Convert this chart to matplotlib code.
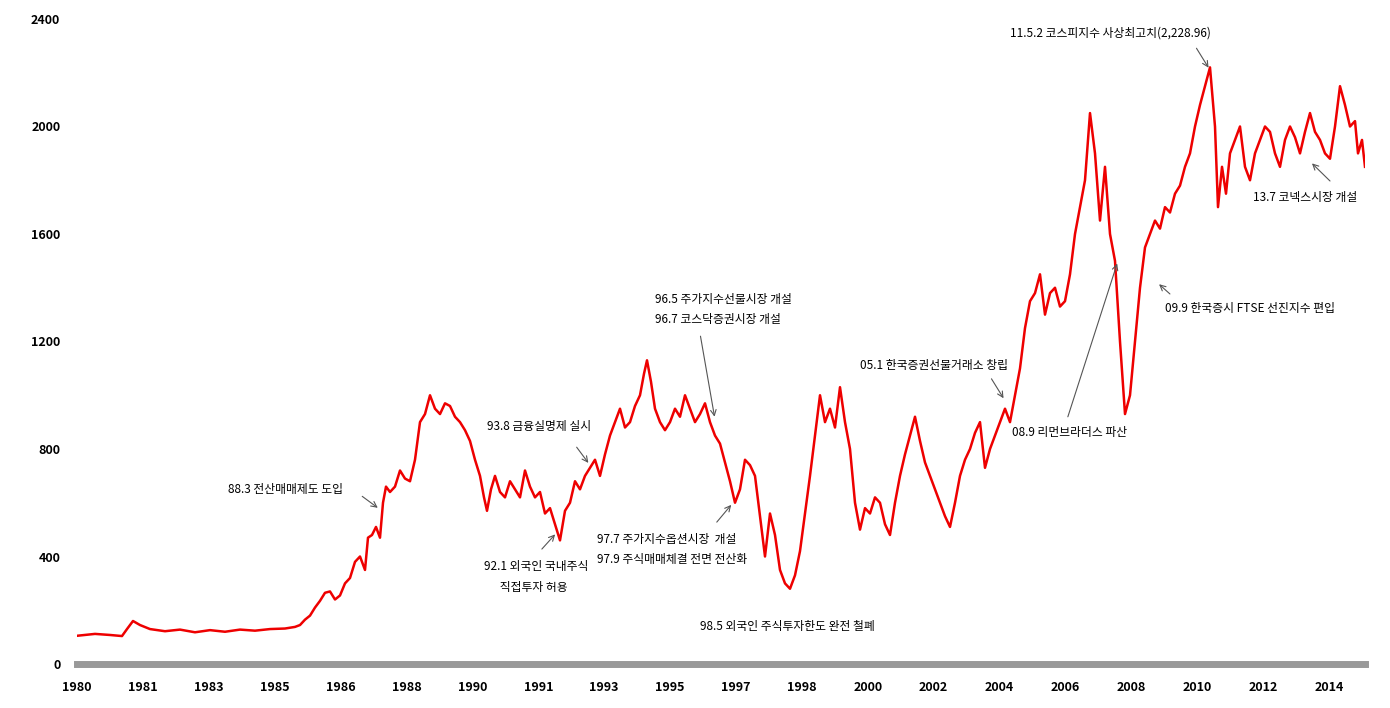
import matplotlib
matplotlib.use("Agg")
import matplotlib.pyplot as plt

plt.rcParams['font.family'] = ['Noto Sans CJK KR', 'DejaVu Sans']

# (time position, KOSPI value); time axis: 1980 tick at 77, 65.9 units per labelled tick
samples = [
    (77, 105), (95, 112), (110, 108), (122, 104), (127, 130), (133, 160), (140, 145), (150, 130), (165, 122),
    (180, 128), (195, 118), (210, 126), (225, 120), (240, 128), (255, 124), (270, 130), (285, 132), (295, 138),
    (300, 145), (305, 165), (310, 180), (315, 210), (320, 235), (325, 265), (330, 270), (335, 240), (340, 255),
    (345, 300), (350, 320), (355, 380), (360, 400), (365, 350), (368, 470), (372, 480), (376, 510), (380, 470),
    (383, 600), (386, 660), (390, 640), (395, 660), (400, 720), (405, 690), (410, 680), (415, 760), (420, 900),
    (425, 930), (430, 1000), (435, 950), (440, 930), (445, 970), (450, 960), (455, 920), (460, 900), (465, 870),
    (470, 830), (475, 760), (480, 700), (484, 620), (487, 570), (491, 650), (495, 700), (500, 640), (505, 620),
    (510, 680), (515, 650), (520, 620), (525, 720), (530, 660), (535, 620), (540, 640), (545, 560), (550, 580),
    (555, 520), (560, 460), (565, 570), (570, 600), (575, 680), (580, 650), (585, 700), (590, 730), (595, 760),
    (600, 700), (605, 780), (610, 850), (615, 900), (620, 950), (625, 880), (630, 900), (635, 960), (640, 1000),
    (644, 1080), (647, 1130), (651, 1050), (655, 950), (660, 900), (665, 870), (670, 900), (675, 950),
    (680, 920), (685, 1000), (690, 950), (695, 900), (700, 930), (705, 970), (710, 900), (715, 850), (720, 820),
    (725, 750), (730, 680), (735, 600), (740, 650), (745, 760), (750, 740), (755, 700), (760, 550), (765, 400),
    (770, 560), (775, 480), (780, 350), (785, 300), (790, 280), (795, 330), (800, 420), (805, 560), (810, 700),
    (815, 850), (820, 1000), (825, 900), (830, 950), (835, 880), (840, 1030), (845, 900), (850, 800), (855, 600),
    (860, 500), (865, 580), (870, 560), (875, 620), (880, 600), (885, 520), (890, 480), (895, 600), (900, 700),
    (905, 780), (910, 850), (915, 920), (920, 830), (925, 750), (930, 700), (935, 650), (940, 600), (945, 550),
    (950, 510), (955, 600), (960, 700), (965, 760), (970, 800), (975, 860), (980, 900), (985, 730), (990, 800),
    (995, 850), (1000, 900), (1005, 950), (1010, 900), (1015, 1000), (1020, 1100), (1025, 1250), (1030, 1350),
    (1035, 1380), (1040, 1450), (1045, 1300), (1050, 1380), (1055, 1400), (1060, 1330), (1065, 1350),
    (1070, 1450), (1075, 1600), (1080, 1700), (1085, 1800), (1090, 2050), (1095, 1900), (1100, 1650),
    (1105, 1850), (1110, 1600), (1115, 1500), (1120, 1200), (1125, 930), (1130, 1000), (1135, 1200),
    (1140, 1400), (1145, 1550), (1150, 1600), (1155, 1650), (1160, 1620), (1165, 1700), (1170, 1680),
    (1175, 1750), (1180, 1780), (1185, 1850), (1190, 1900), (1195, 2000), (1200, 2080), (1205, 2150),
    (1210, 2220), (1215, 2000), (1218, 1700), (1222, 1850), (1226, 1750), (1230, 1900), (1235, 1950),
    (1240, 2000), (1245, 1850), (1250, 1800), (1255, 1900), (1260, 1950), (1265, 2000), (1270, 1980),
    (1275, 1900), (1280, 1850), (1285, 1950), (1290, 2000), (1295, 1960), (1300, 1900), (1305, 1980),
    (1310, 2050), (1315, 1980), (1320, 1950), (1325, 1900), (1330, 1880), (1335, 2000), (1340, 2150),
    (1345, 2080), (1350, 2000), (1355, 2020), (1358, 1900), (1362, 1950), (1365, 1850),
]
t_pos = [p[0] for p in samples]
kospi = [p[1] for p in samples]
tick_labels = ['1980', '1981', '1983', '1985', '1986', '1988', '1990', '1991', '1993', '1995', '1997',
               '1998', '2000', '2002', '2004', '2006', '2008', '2010', '2012', '2014']
y_ticks = [0, 400, 800, 1200, 1600, 2000, 2400]

# (lines, text x, text y, arrow tail, arrow head)
annotations = [
    (["11.5.2 코스피지수 사상최고치(2,228.96)"], 1010, 2348, (1195, 2300), (1210, 2210)),
    (["13.7 코넥스시장 개설"], 1253, 1737, (1332, 1790), (1310, 1870)),
    (["09.9 한국증시 FTSE 선진지수 편입"], 1165, 1324, (1172, 1370), (1157, 1420)),
    (["08.9 리먼브라더스 파산"], 1012, 863, (1067, 910), (1118, 1500)),
    (["05.1 한국증권선물거래소 창립"], 860, 1109, (990, 1070), (1005, 980)),
    (["96.5 주가지수선물시장 개설", "96.7 코스닥증권시장 개설"], 655, 1358, (700, 1230), (715, 910)),
    (["93.8 금융실명제 실시"], 487, 885, (575, 815), (590, 740)),
    (["88.3 전산매매제도 도입"], 228, 651, (360, 630), (380, 575)),
    (["92.1 외국인 국내주식", "      직접투자 허용"], 484, 361, (540, 420), (557, 490)),
    (["97.7 주가지수옵션시장  개설", "97.9 주식매매체결 전면 전산화"], 597, 465, (715, 520), (733, 600)),
    (["98.5 외국인 주식투자한도 완전 철폐"], 700, 141, None, None),
]

fig = plt.figure(figsize=(13.9, 7.08), dpi=100)
ax = fig.add_axes([77 / 1390, 44 / 708, 1288 / 1390, 645 / 708])
ax.plot(t_pos, kospi, color='#ee0000', lw=1.8)
ax.set_xlim(77, 1365)
ax.set_ylim(0, 2400)
ax.set_xticks([77 + i * 65.9 for i in range(len(tick_labels))])
ax.set_xticklabels(tick_labels, fontsize=9, fontweight='bold')
ax.set_yticks(y_ticks)
ax.set_yticklabels([str(v) for v in y_ticks], fontsize=9, fontweight='bold')
ax.tick_params(length=0, pad=12)
for s in ['top', 'right', 'left']:
    ax.spines[s].set_visible(False)
ax.spines['bottom'].set_color('#999999')
ax.spines['bottom'].set_linewidth(5)

for lines, tx, ty, tail, head in annotations:
    for k, line in enumerate(lines):
        ax.text(tx, ty - k * 75, line, fontsize=8.5, va='center', ha='left')
    if tail is not None:
        ax.annotate('', xy=head, xytext=tail,
                    arrowprops=dict(arrowstyle='->', color='#555555', lw=0.8))

fig.savefig('out.png', dpi=100)
